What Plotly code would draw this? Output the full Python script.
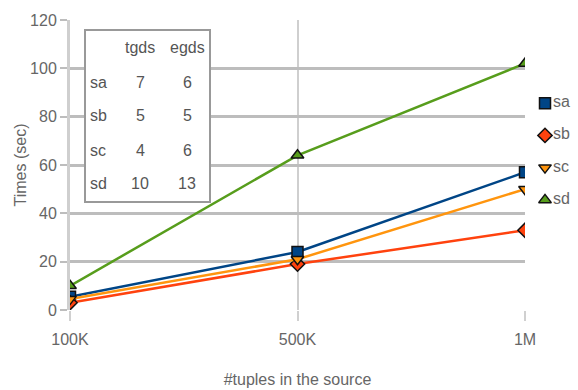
import plotly.graph_objects as go

categories = ["100K", "500K", "1M"]
series_names = ["sa", "sb", "sc", "sd"]
sa = [5.5, 24, 57]
sb = [3, 19, 33]
sc = [4.5, 21, 50]
sd = [10, 64, 102]
tgds = [7, 5, 4, 10]
egds = [6, 5, 6, 13]

colors = ["#004586", "#ff420e", "#ff950e", "#579d1c"]
symbols = ["square", "diamond", "triangle-down", "triangle-up"]
values = [sa, sb, sc, sd]

W, H = 578, 390
PLOT_LEFT, PLOT_TOP, PLOT_RIGHT, PLOT_BOTTOM = 70, 20, 525, 310  # pixels
L = PLOT_LEFT
T = PLOT_TOP
B = H - PLOT_BOTTOM
region_w = W - L
plot_h = PLOT_BOTTOM - PLOT_TOP


def px(p):
    return (p - L) / region_w


def py(p):
    return (PLOT_BOTTOM - p) / plot_h


font_family = "Liberation Sans, Arial, sans-serif"
gray = "#666666"
tcol = "#555555"

fig = go.Figure()
for i, (name, vals) in enumerate(zip(series_names, values)):
    fig.add_trace(go.Scatter(
        x=categories, y=vals, name=name, mode="lines+markers",
        line=dict(color=colors[i], width=2.5),
        marker=dict(symbol=symbols[i], size=11, color=colors[i],
                    line=dict(color="#111111", width=1.5)),
        showlegend=False,
    ))

# legend (drawn as a small marker column on its own axes)
fig.add_trace(go.Scatter(
    x=[0] * len(series_names), y=series_names, xaxis="x2", yaxis="y2",
    mode="markers+text", text=series_names, textposition="middle right",
    textfont=dict(size=16, color=gray, family=font_family),
    marker=dict(symbol=symbols, size=11, color=colors,
                line=dict(color="#111111", width=1.5)),
    cliponaxis=False, showlegend=False, hoverinfo="skip",
))

# table box
fig.add_shape(type="rect", xref="paper", yref="paper",
              x0=px(85), x1=px(210), y0=py(202), y1=py(30),
              line=dict(color="#999999", width=2), fillcolor="white", layer="above")

col_x = [px(98), px(140), px(187)]
row_y = [48, 82, 115, 150, 183]

for cx, txt in zip(col_x[1:], ["tgds", "egds"]):
    fig.add_annotation(text=txt, x=cx, y=py(row_y[0]), xref="paper", yref="paper",
                       xanchor="center", yanchor="middle", showarrow=False,
                       font=dict(size=16, color=tcol, family=font_family))
for i, name in enumerate(series_names):
    yy = py(row_y[i + 1])
    for cx, txt in zip(col_x, [name, str(tgds[i]), str(egds[i])]):
        fig.add_annotation(text=txt, x=cx, y=yy, xref="paper", yref="paper",
                           xanchor="center", yanchor="middle", showarrow=False,
                           font=dict(size=16, color=tcol, family=font_family))

fig.update_layout(
    width=W, height=H, autosize=False,
    margin=dict(l=L, r=0, t=T, b=B, autoexpand=False),
    plot_bgcolor="white", paper_bgcolor="white",
    font=dict(family=font_family, size=16, color=gray),
    showlegend=False,
    xaxis=dict(
        type="category", range=[0, 2], domain=[0, px(PLOT_RIGHT)],
        automargin=False,
        showgrid=True, gridcolor="#cfcfcf", gridwidth=2,
        ticks="outside", ticklen=10, tickcolor="#d0d0d0", tickwidth=2,
        ticklabelstandoff=5,
        tickfont=dict(size=16, color=gray),
        title=dict(text="#tuples in the source", font=dict(size=16, color=gray), standoff=26),
        zeroline=False, showline=False,
    ),
    yaxis=dict(
        range=[0, 120], dtick=20, automargin=False,
        showgrid=True, gridcolor="#bdbdbd", gridwidth=3,
        ticks="outside", ticklen=7, tickcolor="#bdbdbd", tickwidth=2,
        tickfont=dict(size=16, color=gray),
        title=dict(text="Times (sec)", font=dict(size=16, color=gray), standoff=0),
        zeroline=False, showline=True, linecolor="#cfcfcf", linewidth=3,
    ),
    xaxis2=dict(domain=[px(535), px(555)], range=[-1, 1], anchor="y2",
                visible=False, fixedrange=True, automargin=False),
    yaxis2=dict(domain=[py(200 + 16), py(103 - 16)], type="category",
                categoryorder="array", categoryarray=series_names,
                range=[3.5, -0.5], anchor="x2", visible=False, fixedrange=True,
                automargin=False),
)

fig.write_html(
    "out.html",
    config={"responsive": False, "displayModeBar": False},
    post_script="document.body.style.margin='0';document.body.style.overflow='hidden';",
)
